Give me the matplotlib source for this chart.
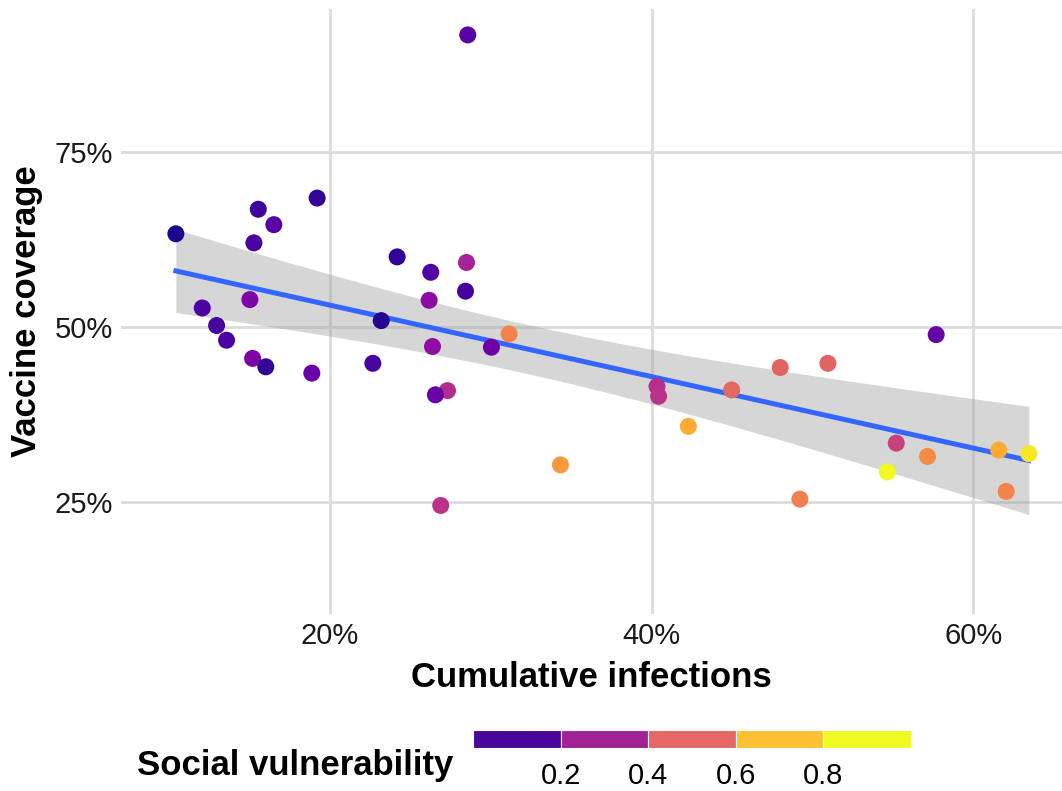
import matplotlib
matplotlib.use("Agg")
import matplotlib.pyplot as plt
import numpy as np
from matplotlib.ticker import PercentFormatter

plt.rcParams['font.family'] = ['Liberation Sans', 'DejaVu Sans']

# cumulative infections (%), vaccine coverage (%), social vulnerability (0-1)
infections = [28.57, 19.21, 15.55, 16.52, 10.43, 15.28, 24.18, 28.49, 26.27, 28.43,
              15.03, 26.17, 12.07, 23.19, 12.96, 31.14, 57.68, 13.58, 30.04, 26.38,
              15.20, 16.02, 50.95, 47.99, 22.67, 18.88, 40.33, 44.97, 27.31, 40.43,
              26.56, 42.28, 55.20, 61.57, 63.44, 57.14, 34.33, 54.64, 62.03, 49.21,
              26.89]
coverage = [91.7, 68.4, 66.8, 64.6, 63.3, 62.0, 60.0, 59.2, 57.8, 55.1,
            53.9, 53.8, 52.7, 50.9, 50.2, 49.0, 48.9, 48.1, 47.1, 47.2,
            45.5, 44.3, 44.8, 44.2, 44.8, 43.4, 41.5, 41.0, 40.9, 40.1,
            40.3, 35.8, 33.4, 32.4, 31.9, 31.5, 30.3, 29.3, 26.5, 25.4,
            24.5]
vulnerability = [0.16, 0.07, 0.09, 0.16, 0.02, 0.12, 0.06, 0.37, 0.14, 0.11,
                 0.25, 0.29, 0.13, 0.04, 0.12, 0.70, 0.19, 0.12, 0.21, 0.30,
                 0.25, 0.07, 0.60, 0.60, 0.12, 0.20, 0.42, 0.61, 0.41, 0.43,
                 0.20, 0.81, 0.48, 0.81, 0.96, 0.72, 0.76, 1.00, 0.70, 0.69,
                 0.43]

legend_bins = [0.0, 0.2, 0.4, 0.6, 0.8, 1.0]
legend_colors = ['#4A0599', '#A12294', '#E36866', '#FBC033', '#F0F921']
legend_ticks = [0.2, 0.4, 0.6, 0.8]

x = np.array(infections) / 100
y = np.array(coverage) / 100

# linear fit with 95% confidence band
n = len(x)
slope, intercept = np.polyfit(x, y, 1)
xs = np.linspace(x.min(), x.max(), 100)
fit = intercept + slope * xs
resid = y - (intercept + slope * x)
s = np.sqrt(np.sum(resid ** 2) / (n - 2))
se = s * np.sqrt(1 / n + (xs - x.mean()) ** 2 / np.sum((x - x.mean()) ** 2))
t_crit = 2.0227  # t(0.975, df=39)

fig = plt.figure(figsize=(10.62, 7.91), dpi=100)
ax = fig.add_axes([121 / 1062, 1 - 614 / 791, 941 / 1062, 605 / 791])

ax.fill_between(xs, fit - t_crit * se, fit + t_crit * se, color='#999999', alpha=0.4,
                linewidth=0, zorder=2)
ax.plot(xs, fit, color='#3366FF', linewidth=3.6, zorder=3)
ax.scatter(x, y, c=vulnerability, cmap='plasma', vmin=0, vmax=1, s=150,
           linewidths=0, zorder=4)

ax.set_xlim(0.0702, 0.655)
ax.set_ylim(0.09, 0.954)
ax.set_xticks([0.2, 0.4, 0.6])
ax.set_yticks([0.25, 0.5, 0.75])
ax.xaxis.set_major_formatter(PercentFormatter(1.0, decimals=0))
ax.yaxis.set_major_formatter(PercentFormatter(1.0, decimals=0))
ax.grid(True, color='#DCDCDC', linewidth=2.0, zorder=0)
ax.set_axisbelow(True)
for sp in ax.spines.values():
    sp.set_visible(False)
ax.tick_params(length=0, labelsize=21, pad=6, labelcolor='#1a1a1a')
ax.set_xlabel('Cumulative infections', fontsize=25, fontweight='bold', labelpad=8)
ax.set_ylabel('Vaccine coverage', fontsize=25, fontweight='bold', labelpad=8)

# binned colour legend
lax = fig.add_axes([473 / 1062, 1 - 748 / 791, 438 / 1062, 18 / 791])
lax.bar(legend_bins[:-1], [1] * 5, width=np.diff(legend_bins), align='edge',
        color=legend_colors, edgecolor='white', linewidth=0.8)
lax.set_xlim(0, 1)
lax.set_ylim(0, 1)
lax.set_yticks([])
lax.set_xticks(legend_ticks)
lax.set_xticklabels([f'{t:.1f}' for t in legend_ticks])
lax.tick_params(length=0, labelsize=21, pad=10)
for sp in lax.spines.values():
    sp.set_visible(False)
fig.text(295 / 1062, 1 - 765 / 791, 'Social vulnerability', fontsize=25,
         fontweight='bold', ha='center', va='center')

fig.savefig('out.png', dpi=100)
